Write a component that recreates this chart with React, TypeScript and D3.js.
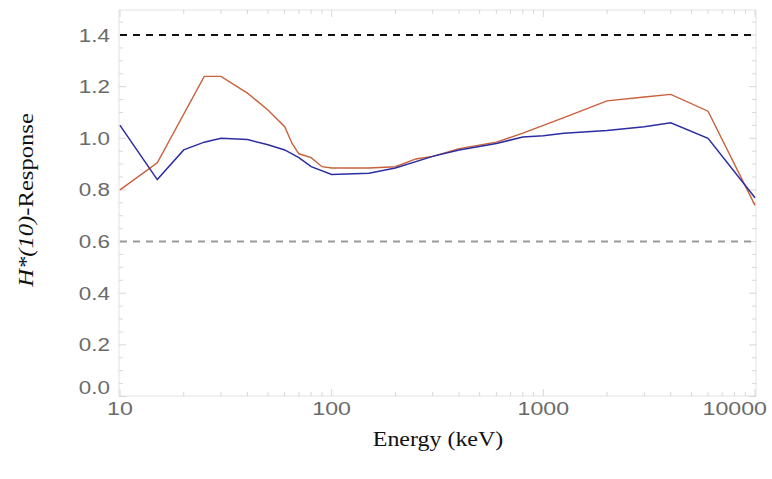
import React, { useEffect, useRef } from "react";
import * as d3 from "d3";

// energies (keV) and H*(10) responses
const blueEnergy = [10, 15, 20, 25, 30, 40, 50, 60, 70, 80, 100, 150, 200, 300, 400, 600, 800, 1000, 1250, 2000, 3000, 4000, 6000, 10000];
const blueResponse = [1.05, 0.84, 0.955, 0.985, 1.0, 0.995, 0.975, 0.955, 0.925, 0.89, 0.86, 0.865, 0.885, 0.93, 0.955, 0.98, 1.005, 1.01, 1.02, 1.03, 1.045, 1.06, 1.0, 0.77];

const redEnergy = [10, 15, 25, 30, 40, 50, 60, 65, 70, 80, 90, 100, 150, 200, 250, 300, 400, 600, 800, 1000, 1250, 2000, 3000, 4000, 6000, 10000];
const redResponse = [0.8, 0.905, 1.24, 1.24, 1.175, 1.11, 1.045, 0.98, 0.94, 0.925, 0.89, 0.885, 0.885, 0.89, 0.92, 0.93, 0.96, 0.985, 1.02, 1.05, 1.08, 1.145, 1.16, 1.17, 1.105, 0.74];

const yTicks = [0, 0.2, 0.4, 0.6, 0.8, 1.0, 1.2, 1.4];
const xTicks = [10, 100, 1000, 10000];
const limitLines = [1.4, 0.6];

const App = () => {
  const ref = useRef<SVGSVGElement>(null);

  useEffect(() => {
    const svg = d3.select(ref.current);
    svg.selectAll("*").remove();

    const left = 119, right = 756, top = 10, bottom = 396;
    const x = d3.scaleLog().domain([10, 10000]).range([left + 1, right - 1]);
    const y = d3.scaleLinear().domain([0, 1.5]).range([bottom + 0.5, top - 0.8]);

    const sans = "'Liberation Sans', Arial, sans-serif";
    const serif = "'Liberation Serif', 'Times New Roman', serif";

    // frame
    svg.append("rect")
      .attr("x", left).attr("y", top)
      .attr("width", right - left).attr("height", bottom - top)
      .attr("fill", "none").attr("stroke", "#e2e2e2").attr("stroke-width", 1);

    // ticks inside the frame
    const minor: number[] = [];
    for (let d = 10; d < 10000; d *= 10) {
      for (let k = 2; k <= 9; k++) minor.push(d * k);
    }
    const tk = svg.append("g").attr("stroke", "#d8d8d8").attr("stroke-width", 1);
    minor.forEach(v => {
      tk.append("line").attr("x1", x(v)).attr("x2", x(v)).attr("y1", bottom).attr("y2", bottom - 4);
      tk.append("line").attr("x1", x(v)).attr("x2", x(v)).attr("y1", top).attr("y2", top + 4);
    });
    xTicks.forEach(v => {
      tk.append("line").attr("x1", x(v)).attr("x2", x(v)).attr("y1", bottom).attr("y2", bottom - 7);
      tk.append("line").attr("x1", x(v)).attr("x2", x(v)).attr("y1", top).attr("y2", top + 7);
    });
    d3.range(0, 1.5, 0.05).forEach(v => {
      const major = yTicks.some(t => Math.abs(t - v) < 1e-6);
      const len = major ? 7 : 4;
      tk.append("line").attr("x1", left).attr("x2", left + len).attr("y1", y(v)).attr("y2", y(v));
      tk.append("line").attr("x1", right).attr("x2", right - len).attr("y1", y(v)).attr("y2", y(v));
    });

    // limit lines
    svg.selectAll(".limit").data(limitLines).join("line")
      .attr("class", "limit")
      .attr("x1", left + 1).attr("x2", right - 1)
      .attr("y1", d => y(d)).attr("y2", d => y(d))
      .attr("stroke", d => d > 1 ? "#111" : "#9a9a9a")
      .attr("stroke-width", 2)
      .attr("stroke-dasharray", "7,6");

    const line = d3.line<[number, number]>().x(d => x(d[0])).y(d => y(d[1]));

    svg.append("path")
      .datum(redEnergy.map((e, i) => [e, redResponse[i]] as [number, number]))
      .attr("d", line).attr("fill", "none")
      .attr("stroke", "#c9603c").attr("stroke-width", 1.4);

    svg.append("path")
      .datum(blueEnergy.map((e, i) => [e, blueResponse[i]] as [number, number]))
      .attr("d", line).attr("fill", "none")
      .attr("stroke", "#2d2da3").attr("stroke-width", 1.5);

    // y tick labels
    yTicks.forEach(v => {
      const yy = v === 0 ? y(v) - 9 : y(v);
      svg.append("text")
        .attr("transform", `translate(110,${yy + 6.5}) scale(1.18,1)`)
        .attr("text-anchor", "end")
        .style("font-family", sans).style("font-size", "19px").style("fill", "#6a6a6a")
        .text(v.toFixed(1));
    });

    // x tick labels
    xTicks.forEach(v => {
      const last = v === 10000;
      svg.append("text")
        .attr("transform", `translate(${last ? 767 : x(v)},${bottom + 19}) scale(1.22,1)`)
        .attr("text-anchor", last ? "end" : "middle")
        .style("font-family", sans).style("font-size", "19px").style("fill", "#6a6a6a")
        .text(String(v));
    });

    // axis titles
    svg.append("text")
      .attr("transform", `translate(438,446) scale(1.14,1)`)
      .attr("text-anchor", "middle")
      .style("font-family", serif).style("font-size", "21px").style("fill", "#111")
      .text("Energy (keV)");

    const yl = svg.append("text")
      .attr("transform", `translate(33,200) rotate(-90) scale(1.12,1)`)
      .attr("text-anchor", "middle")
      .style("font-family", serif).style("font-size", "22px").style("fill", "#111");
    yl.append("tspan").style("font-style", "italic").text("H*(10)");
    yl.append("tspan").text("-Response");
  }, []);

  return (
    <svg ref={ref} width={772} height={479} style={{ position: "absolute", left: 0, top: 0, background: "#fff" }} />
  );
};

export default App;
